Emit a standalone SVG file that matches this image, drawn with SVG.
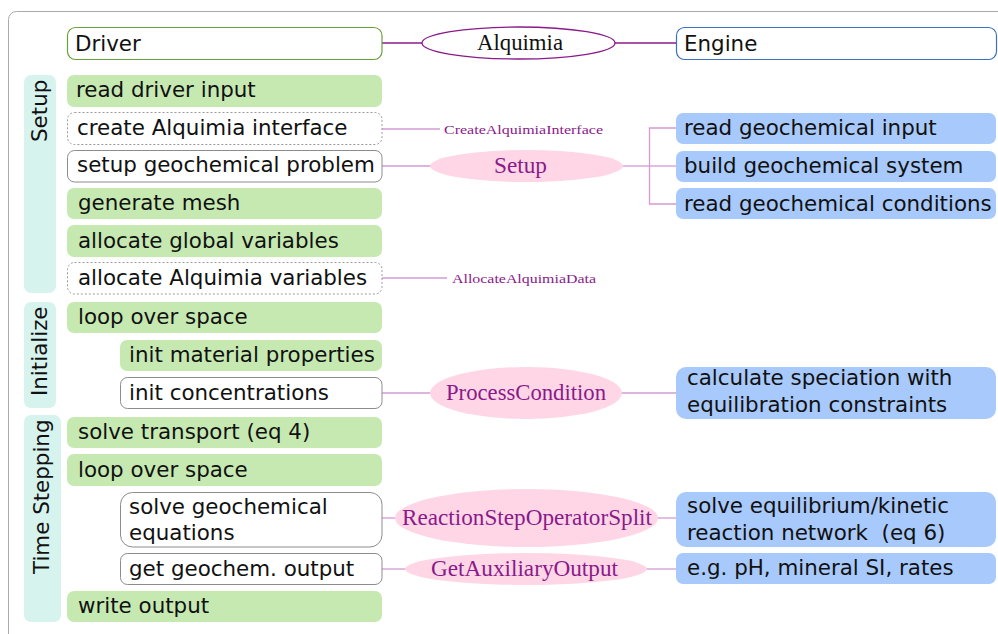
<svg xmlns="http://www.w3.org/2000/svg" width="998" height="634" viewBox="0 0 998 634">
<style>
.t{font-family:"DejaVu Sans","Liberation Sans",sans-serif;font-size:21.4px;fill:#111}
.s{font-family:"Liberation Serif","DejaVu Serif",serif;fill:#8a1a8a}
.g{fill:#c6e9b2}
.b{fill:#a8c9fb}
.w{fill:#fff;stroke:#8c8c8c;stroke-width:1}
.d{fill:#fff;stroke:#9a9a9a;stroke-width:1;stroke-dasharray:2 2}
.lab{fill:#d7f3ee}
.pk{fill:#ffd6e6}
.c{stroke:#d49ad4;stroke-width:1.3;fill:none}
</style>
<rect x="8.5" y="11.5" width="1000" height="640" rx="8" fill="none" stroke="#aaa" stroke-width="1"/>

<g id="connectors">
  <line x1="382" y1="43" x2="422" y2="43" stroke="#8b1a8b" stroke-width="1.3"/>
  <line x1="615" y1="43" x2="676" y2="43" stroke="#8b1a8b" stroke-width="1.3"/>
  <line class="c" x1="382" y1="129" x2="440" y2="129"/>
  <line class="c" x1="382" y1="166" x2="431" y2="166"/>
  <polyline class="c" points="623,166 649.5,166"/>
  <polyline class="c" points="676,128 649.5,128 649.5,204 676,204"/>
  <line class="c" x1="649.5" y1="166" x2="676" y2="166"/>
  <line class="c" x1="382" y1="278" x2="447" y2="278"/>
  <line class="c" x1="382" y1="393" x2="431" y2="393"/>
  <line class="c" x1="621" y1="393" x2="676" y2="393"/>
  <line class="c" x1="382" y1="518" x2="396" y2="518"/>
  <line class="c" x1="657" y1="518" x2="676" y2="518"/>
  <line class="c" x1="382" y1="569" x2="406" y2="569"/>
  <line class="c" x1="646" y1="569" x2="676" y2="569"/>
</g>

<g id="phase-setup">
  <rect class="lab" x="24" y="75" width="32" height="218" rx="7"/>
  <text class="t" transform="translate(47,142) rotate(-90)">Setup</text>
</g>
<g id="phase-initialize">
  <rect class="lab" x="24" y="302" width="32" height="106" rx="7"/>
  <text class="t" transform="translate(47,396) rotate(-90)">Initialize</text>
</g>
<g id="phase-timestepping">
  <rect class="lab" x="24" y="415" width="37" height="207" rx="7"/>
  <text class="t" transform="translate(49,574) rotate(-90)">Time Stepping</text>
</g>

<g id="driver">
  <rect x="67.5" y="27.5" width="314.5" height="32" rx="8" fill="#fff" stroke="#6aa03c" stroke-width="1.2"/>
  <text class="t" x="75" y="51">Driver</text>
</g>
<g id="alquimia">
  <ellipse cx="518.5" cy="43" rx="96.5" ry="16" fill="#fff" stroke="#8b1a8b" stroke-width="1.3"/>
  <text x="477" y="50" font-family="Liberation Serif, DejaVu Serif, serif" font-size="23" fill="#111" textLength="86" lengthAdjust="spacingAndGlyphs">Alquimia</text>
</g>
<g id="engine">
  <rect x="676.5" y="27.5" width="320" height="32" rx="8" fill="#fff" stroke="#3a70c0" stroke-width="1.2"/>
  <text class="t" x="684" y="51">Engine</text>
</g>

<g id="read-driver-input"><rect class="g" x="67" y="75" width="315" height="32" rx="7"/><text class="t" x="76" y="97">read driver input</text></g>
<g id="create-alquimia-interface"><rect class="d" x="67.5" y="112.5" width="314.5" height="32" rx="7"/><text class="t" x="77" y="135">create Alquimia interface</text></g>
<g id="setup-geochemical-problem"><rect class="w" x="67.5" y="150.5" width="314.5" height="31.5" rx="7"/><text class="t" x="77" y="172">setup geochemical problem</text></g>
<g id="generate-mesh"><rect class="g" x="67" y="188" width="315" height="31" rx="7"/><text class="t" x="78" y="210">generate mesh</text></g>
<g id="allocate-global-variables"><rect class="g" x="67" y="225" width="315" height="32" rx="7"/><text class="t" x="78" y="248">allocate global variables</text></g>
<g id="allocate-alquimia-variables"><rect class="d" x="67.5" y="262.5" width="314.5" height="31.5" rx="7"/><text class="t" x="78" y="285">allocate Alquimia variables</text></g>
<g id="loop-over-space-1"><rect class="g" x="67" y="302" width="315" height="31" rx="7"/><text class="t" x="78" y="324">loop over space</text></g>
<g id="init-material-properties"><rect class="g" x="120" y="340" width="262" height="31" rx="7"/><text class="t" x="129" y="362">init material properties</text></g>
<g id="init-concentrations"><rect class="w" x="120.5" y="377.5" width="261.5" height="31" rx="7"/><text class="t" x="129" y="400">init concentrations</text></g>
<g id="solve-transport"><rect class="g" x="67" y="417" width="315" height="31" rx="7"/><text class="t" x="78" y="439">solve transport (eq 4)</text></g>
<g id="loop-over-space-2"><rect class="g" x="67" y="454" width="315" height="32" rx="7"/><text class="t" x="78" y="477">loop over space</text></g>
<g id="solve-geochemical-equations"><rect class="w" x="120.5" y="492.5" width="261.5" height="54.5" rx="12"/><text class="t" x="129" y="514">solve geochemical</text><text class="t" x="129" y="540">equations</text></g>
<g id="get-geochem-output"><rect class="w" x="120.5" y="553.5" width="261.5" height="31" rx="7"/><text class="t" x="129" y="576">get geochem. output</text></g>
<g id="write-output"><rect class="g" x="67" y="591" width="315" height="31" rx="7"/><text class="t" x="78" y="613">write output</text></g>

<g id="create-alquimia-interface-call"><text class="s" x="444" y="134" font-size="13.5" textLength="159" lengthAdjust="spacingAndGlyphs">CreateAlquimiaInterface</text></g>
<g id="setup-call"><ellipse class="pk" cx="526.5" cy="166" rx="96.5" ry="16"/><text class="s" x="494" y="173" font-size="22.5" textLength="53" lengthAdjust="spacingAndGlyphs">Setup</text></g>
<g id="allocate-alquimia-data-call"><text class="s" x="452" y="283" font-size="13.5" textLength="144" lengthAdjust="spacingAndGlyphs">AllocateAlquimiaData</text></g>
<g id="process-condition-call"><ellipse class="pk" cx="526" cy="393" rx="96" ry="26"/><text class="s" x="446" y="400" font-size="22.5" textLength="160" lengthAdjust="spacingAndGlyphs">ProcessCondition</text></g>
<g id="reaction-step-call"><ellipse class="pk" cx="526.5" cy="518" rx="131.5" ry="29"/><text class="s" x="402" y="525" font-size="22.5" textLength="250" lengthAdjust="spacingAndGlyphs">ReactionStepOperatorSplit</text></g>
<g id="get-auxiliary-output-call"><ellipse class="pk" cx="526" cy="569" rx="121" ry="16"/><text class="s" x="431" y="576" font-size="22.5" textLength="187" lengthAdjust="spacingAndGlyphs">GetAuxiliaryOutput</text></g>

<g id="read-geochemical-input"><rect class="b" x="676" y="113" width="320" height="31" rx="7"/><text class="t" x="684" y="135">read geochemical input</text></g>
<g id="build-geochemical-system"><rect class="b" x="676" y="151" width="320" height="31" rx="7"/><text class="t" x="684" y="173">build geochemical system</text></g>
<g id="read-geochemical-conditions"><rect class="b" x="676" y="188" width="320" height="31" rx="7"/><text class="t" x="684" y="211">read geochemical conditions</text></g>
<g id="calculate-speciation"><rect class="b" x="676" y="367" width="320" height="52" rx="10"/><text class="t" x="687" y="385">calculate speciation with</text><text class="t" x="687" y="412">equilibration constraints</text></g>
<g id="solve-reaction-network"><rect class="b" x="676" y="492" width="320" height="55" rx="10"/><text class="t" x="687" y="513">solve equilibrium/kinetic</text><text class="t" x="687" y="540" xml:space="preserve">reaction network  (eq 6)</text></g>
<g id="eg-ph"><rect class="b" x="676" y="553" width="320" height="31" rx="7"/><text class="t" x="687" y="575">e.g. pH, mineral SI, rates</text></g>
</svg>
